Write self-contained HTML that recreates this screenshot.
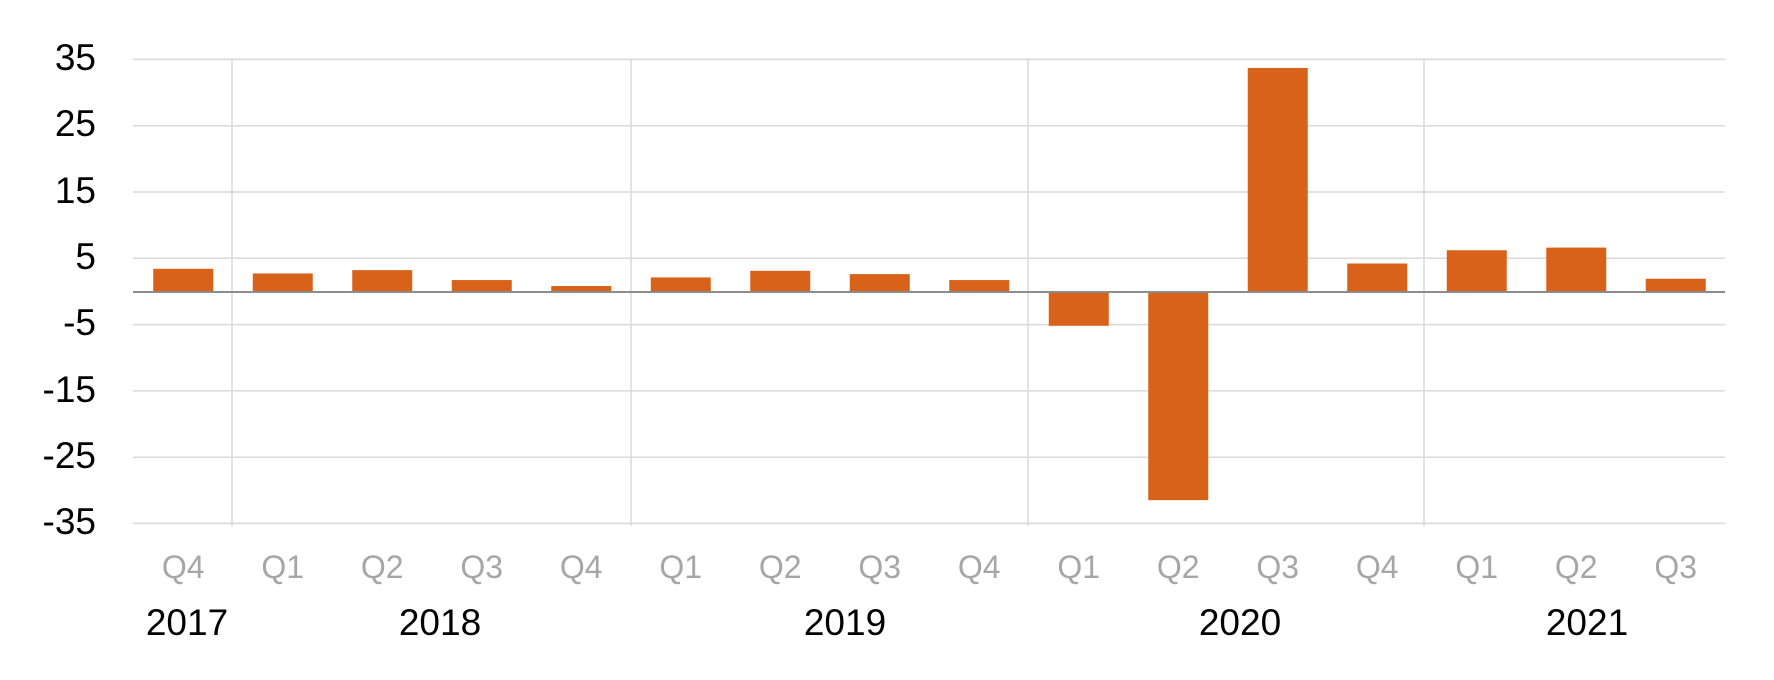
<!DOCTYPE html>
<html><head><meta charset="utf-8"><style>
html,body{margin:0;padding:0;background:#fff;}
svg{display:block;}
text{font-family:"Liberation Sans",sans-serif;}
</style></head><body>
<svg width="1774" height="680" viewBox="0 0 1774 680" xmlns="http://www.w3.org/2000/svg">
<g stroke="#d9d9d9" stroke-width="1.5">
<line x1="133" x2="1725" y1="59.4" y2="59.4"/>
<line x1="133" x2="1725" y1="125.7" y2="125.7"/>
<line x1="133" x2="1725" y1="192" y2="192"/>
<line x1="133" x2="1725" y1="258.3" y2="258.3"/>
<line x1="133" x2="1725" y1="324.6" y2="324.6"/>
<line x1="133" x2="1725" y1="390.9" y2="390.9"/>
<line x1="133" x2="1725" y1="457.2" y2="457.2"/>
<line x1="133" x2="1725" y1="523.4" y2="523.4"/>
<line x1="232" x2="232" y1="59.4" y2="526"/>
<line x1="631" x2="631" y1="59.4" y2="526"/>
<line x1="1028" x2="1028" y1="59.4" y2="526"/>
<line x1="1424" x2="1424" y1="59.4" y2="526"/>
</g>
<g fill="#d8621a" id="bars"></g>
<line x1="133" x2="1725" y1="292" y2="292" stroke="#8c8c8c" stroke-width="2"/>
<g font-size="37" fill="#000" text-anchor="end">
<text x="96" y="70">35</text>
<text x="96" y="136">25</text>
<text x="96" y="203">15</text>
<text x="96" y="269">5</text>
<text x="96" y="335">-5</text>
<text x="96" y="402">-15</text>
<text x="96" y="468">-25</text>
<text x="96" y="534">-35</text>
</g>
<g font-size="32" fill="#a6a6a6" text-anchor="middle" id="ql"></g>
<g font-size="37" fill="#000" text-anchor="middle">
<text x="187" y="635">2017</text>
<text x="440" y="635">2018</text>
<text x="845" y="635">2019</text>
<text x="1240" y="635">2020</text>
<text x="1587" y="635">2021</text>
</g>
<script>
var v=[3.5,2.8,3.3,1.8,0.9,2.2,3.2,2.7,1.8,-5.1,-31.4,33.8,4.3,6.3,6.7,2.0];
var q=["Q4","Q1","Q2","Q3","Q4","Q1","Q2","Q3","Q4","Q1","Q2","Q3","Q4","Q1","Q2","Q3"];
var ns="http://www.w3.org/2000/svg",b=document.getElementById("bars"),ql=document.getElementById("ql");
var s=6.629,z=292,w=99.5;
for(var i=0;i<16;i++){var c=133.5+w*(i+0.5);
var r=document.createElementNS(ns,"rect");var h=Math.abs(v[i])*s;
r.setAttribute("x",c-30);r.setAttribute("width",60);
r.setAttribute("y",v[i]>=0?z-h:z);r.setAttribute("height",h);b.appendChild(r);
var t=document.createElementNS(ns,"text");t.setAttribute("x",c);t.setAttribute("y",578);t.textContent=q[i];ql.appendChild(t);}
</script>
</svg>
</body></html>
